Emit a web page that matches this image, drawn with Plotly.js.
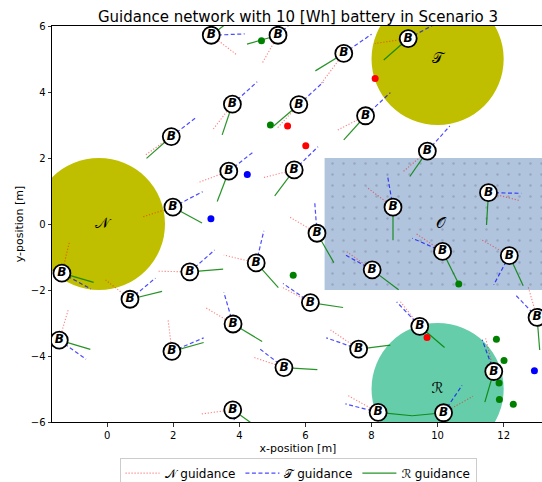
<!DOCTYPE html>
<html><head><meta charset="utf-8">
<script src="https://cdn.plot.ly/plotly-3.0.1.min.js"></script>
<style>html,body{margin:0;padding:0;overflow:hidden;background:#fff}#plot{width:544px;height:482px}</style>
</head><body><div id="plot"></div>
<script>
// Node (battery) positions
var nodeX = [3.15,5.17,7.16,9.11,3.79,5.80,7.82,1.94,9.69,3.68,5.66,11.54,1.99,8.65,6.35,10.15,12.17,-1.37,2.50,4.51,8.02,0.69,6.15,13.01,-1.45,1.96,3.81,9.46,7.61,5.35,11.70,3.80,8.20,10.18];
var nodeY = [5.72,5.72,5.17,5.62,3.63,3.62,3.28,2.65,2.21,1.60,1.64,0.95,0.51,0.51,-0.28,-0.83,-0.96,-1.49,-1.45,-1.18,-1.39,-2.28,-2.38,-2.83,-3.52,-3.86,-3.03,-3.10,-3.79,-4.35,-4.47,-5.63,-5.71,-5.72];
// N guidance end points
var nEndX = [3.93,4.69,6.48,8.10,3.19,5.14,6.94,1.13,8.96,2.74,4.70,12.48,1.06,7.85,5.49,9.33,11.30,-1.14,1.51,3.53,7.21,-0.08,5.27,12.74,-1.17,1.84,2.97,8.84,6.76,4.43,11.45,2.82,7.29,11.07];
var nEndY = [5.12,4.87,4.26,5.47,2.85,2.90,2.83,2.07,1.59,1.25,1.40,0.71,0.21,1.12,0.23,-0.28,-0.46,-0.53,-1.43,-0.94,-0.81,-1.67,-1.90,-1.90,-2.57,-2.88,-2.53,-2.31,-3.21,-4.04,-3.45,-5.76,-5.20,-5.22];
// T guidance end points
var tEndX = [4.16,5.90,8.00,10.00,4.54,6.54,8.57,2.72,10.37,4.43,6.38,12.53,2.89,8.48,6.28,9.23,11.70,-0.49,3.25,4.74,7.16,1.46,5.32,12.33,-0.64,2.92,3.53,8.76,6.63,4.59,11.35,3.95,7.21,10.74];
var tEndY = [5.76,6.40,5.75,6.10,4.31,4.30,3.98,3.25,2.97,2.19,2.34,0.93,0.98,1.49,0.68,-0.43,-1.84,-1.97,-0.79,-0.21,-0.91,-1.64,-1.80,-2.12,-4.10,-3.45,-2.07,-2.36,-3.45,-3.76,-3.51,-6.60,-5.45,-4.89];
// R guidance end points
var rEndX = [3.90,4.23,6.30,8.37,3.48,5.04,7.16,1.19,9.16,3.33,5.07,11.48,2.87,8.65,6.86,10.64,12.59,-0.41,3.51,5.18,8.82,1.66,7.14,13.09,-0.51,2.92,4.69,10.21,8.57,6.36,11.43,4.60,9.23,9.23];
var rEndY = [6.30,5.45,4.64,4.97,2.70,2.97,2.55,1.99,1.44,0.68,0.85,-0.03,0.03,-0.49,-1.17,-1.82,-1.87,-1.77,-1.37,-1.93,-1.99,-2.04,-2.53,-3.82,-3.80,-3.59,-3.56,-3.74,-3.67,-4.41,-5.40,-6.20,-5.81,-5.81];
// Sensor dots
var greenDotX = [4.67,4.94,5.63,10.64,11.78,12.01,11.86,11.87,12.29];
var greenDotY = [5.55,3.00,-1.55,-1.82,-3.49,-4.14,-4.82,-5.32,-5.46];
var redDotX = [8.11,5.46,6.01,9.68];
var redDotY = [4.41,2.97,2.37,-3.44];
var blueDotX = [4.24,3.14,12.93];
var blueDotY = [1.50,0.16,-4.45];
// Regions
var circleCX = [-0.25,10,10];
var circleCY = [0,5,-5];
var circleR = [2,2,2];
var circleColors = ['#bfbf00','#bfbf00','#66cdaa'];
var labelX = [-0.15,10,10,10.1];
var labelY = [0,5,-5,0];
var labelText = ['𝒩','𝒯','ℛ','𝒪'];
var obsX = [6.58,14,14,6.58,6.58];
var obsY = [-2,-2,2,2,-2];

function seg(x0,y0,x1,y1){var X=[],Y=[];for(var i=0;i<x0.length;i++){X.push(x0[i],x1[i],null);Y.push(y0[i],y1[i],null);}return {x:X,y:Y};}
var nS=seg(nodeX,nodeY,nEndX,nEndY), tS=seg(nodeX,nodeY,tEndX,tEndY), rS=seg(nodeX,nodeY,rEndX,rEndY);
var F='DejaVu Sans';
var traces=[
 {x:obsX,y:obsY,mode:'lines',fill:'toself',fillcolor:'#b0c4de',line:{width:0,color:'#b0c4de'},
  fillpattern:{shape:'.',bgcolor:'#b0c4de',fgcolor:'#97a6bd',size:11,solidity:0.04},showlegend:false,hoverinfo:'skip'},
 {x:nS.x,y:nS.y,mode:'lines',name:'𝒩 guidance',line:{color:'rgba(255,0,0,0.5)',width:1.1,dash:'1.2px,1.8px'}},
 {x:tS.x,y:tS.y,mode:'lines',name:'𝒯 guidance',line:{color:'rgba(0,0,255,0.7)',width:1.2,dash:'4px,2.5px'}},
 {x:rS.x,y:rS.y,mode:'lines',name:'ℛ guidance',line:{color:'rgba(0,128,0,0.85)',width:1.2}},
 {x:greenDotX,y:greenDotY,mode:'markers',marker:{color:'green',size:7},showlegend:false},
 {x:redDotX,y:redDotY,mode:'markers',marker:{color:'red',size:7},showlegend:false},
 {x:blueDotX,y:blueDotY,mode:'markers',marker:{color:'blue',size:7},showlegend:false},
 {x:labelX,y:labelY,mode:'text',text:labelText,textfont:{family:F,size:15,color:'#000'},showlegend:false},
 {x:nodeX,y:nodeY,mode:'markers+text',text:nodeX.map(function(){return 'B';}),textposition:'middle center',
  marker:{symbol:'circle',size:17,color:'#fff',line:{color:'#000',width:1.8}},
  textfont:{family:F,size:12,color:'#000',weight:'bold',style:'italic'},showlegend:false}
];
var shapes=circleCX.map(function(c,i){return {type:'circle',xref:'x',yref:'y',layer:'below',
  x0:c-circleR[i],x1:c+circleR[i],y0:circleCY[i]-circleR[i],y1:circleCY[i]+circleR[i],
  fillcolor:circleColors[i],line:{width:0}};});
var ax={showgrid:false,zeroline:false,showline:true,mirror:true,linecolor:'#000',linewidth:1,
  ticks:'outside',ticklen:3.5,tickwidth:0.8,tickcolor:'#000',tickfont:{family:F,size:10,color:'#000'}};
var layout={width:544,height:482,margin:{l:52,r:0,t:26,b:60,autoexpand:false},
 paper_bgcolor:'#fff',plot_bgcolor:'#fff',shapes:shapes,
 title:{text:'Guidance network with 10 [Wh] battery in Scenario 3',font:{family:F,size:15,color:'#000'},
   x:0.5,xref:'paper',xanchor:'center',y:0.965,yref:'container',yanchor:'middle'},
 xaxis:Object.assign({},ax,{range:[-1.67,13.22],tickvals:[0,2,4,6,8,10,12],
   title:{text:'x-position [m]',font:{family:F,size:11,color:'#000'},standoff:4}}),
 yaxis:Object.assign({},ax,{range:[-6,6],tickvals:[-6,-4,-2,0,2,4,6],
   title:{text:'y-position [m]',font:{family:F,size:11,color:'#000'},standoff:4}}),
 legend:{orientation:'h',x:0.5,xanchor:'center',y:-0.09,yanchor:'top',bordercolor:'#ccc',borderwidth:1,
   font:{family:F,size:12,color:'#000'},bgcolor:'#fff',itemwidth:34},
 showlegend:true};
Plotly.newPlot('plot',traces,layout,{staticPlot:true});
</script></body></html>
